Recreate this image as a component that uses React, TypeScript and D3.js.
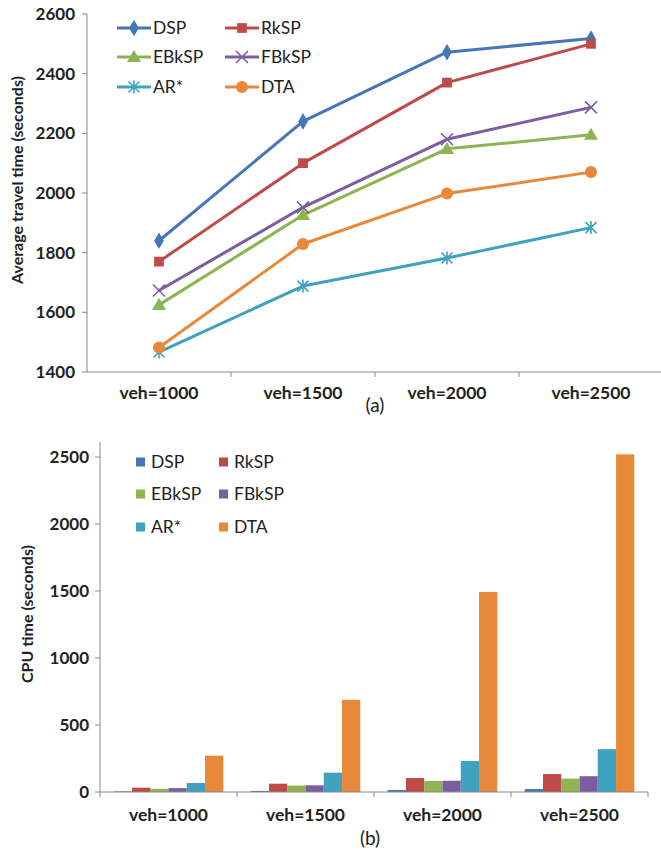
import React from "react";
import * as d3 from "d3";

// Scenarios and methods
const categories = ["veh=1000", "veh=1500", "veh=2000", "veh=2500"];
const methods = ["DSP", "RkSP", "EBkSP", "FBkSP", "AR*", "DTA"];
const colors = ["#4576B8", "#BE4B48", "#8DB450", "#7B5EA0", "#3FA2BE", "#E8893A"];

// (a) Average travel time (seconds)
const travelDSP = [1840, 2240, 2472, 2518];
const travelRkSP = [1770, 2100, 2370, 2500];
const travelEBkSP = [1625, 1926, 2148, 2195];
const travelFBkSP = [1673, 1952, 2180, 2287];
const travelAR = [1467, 1688, 1782, 1884];
const travelDTA = [1482, 1829, 1998, 2070];
const travelSeries = [travelDSP, travelRkSP, travelEBkSP, travelFBkSP, travelAR, travelDTA];
const travelTicks = [1400, 1600, 1800, 2000, 2200, 2400, 2600];

// (b) CPU time (seconds)
const cpuDSP = [5, 8, 15, 22];
const cpuRkSP = [32, 62, 104, 134];
const cpuEBkSP = [24, 48, 82, 100];
const cpuFBkSP = [29, 50, 84, 118];
const cpuAR = [67, 144, 231, 320];
const cpuDTA = [271, 688, 1493, 2520];
const cpuSeries = [cpuDSP, cpuRkSP, cpuEBkSP, cpuFBkSP, cpuAR, cpuDTA];
const cpuTicks = [0, 500, 1000, 1500, 2000, 2500];

const FONT = "Lato, 'Open Sans', sans-serif";
const AXIS = "#8A8A8A";
const TEXT = "#222";

function Marker({ kind, x, y, color }: { kind: number; x: number; y: number; color: string }) {
  const t = `translate(${x},${y})`;
  if (kind === 0) return <path transform={t} d={d3.symbol(d3.symbolDiamond, 80)()!} fill={color} />;
  if (kind === 1) return <path transform={t} d={d3.symbol(d3.symbolSquare, 95)()!} fill={color} />;
  if (kind === 2) return <path transform={t + " translate(0,1)"} d={d3.symbol(d3.symbolTriangle, 85)()!} fill={color} />;
  if (kind === 3) {
    const s = 6;
    return (
      <path transform={t} d={`M${-s},${-s}L${s},${s}M${-s},${s}L${s},${-s}`} stroke={color} strokeWidth={1.6} fill="none" />
    );
  }
  if (kind === 4) {
    const s = 5.5;
    return (
      <path
        transform={t}
        d={`M${-s},${-s}L${s},${s}M${-s},${s}L${s},${-s}M0,${-s - 1}L0,${s + 1}`}
        stroke={color}
        strokeWidth={1.6}
        fill="none"
      />
    );
  }
  return <circle cx={x} cy={y} r={6} fill={color} />;
}

function TravelChart() {
  const x = d3.scaleBand<string>().domain(categories).range([87, 663]);
  const y = d3.scaleLinear().domain([1400, 2600]).range([372, 14]);
  const line = d3
    .line<number>()
    .x((_, i) => x(categories[i])! + x.bandwidth() / 2)
    .y((v) => y(v));
  const edges = categories.map((c) => x(c)!).concat([x.range()[1]]);
  const legendCols = [117, 225];
  const legendRows = [28, 57, 87];
  return (
    <g>
      {/* axes */}
      <line x1={87} x2={87} y1={y(2600)} y2={y(1400)} stroke={AXIS} strokeWidth={1} />
      <line x1={87} x2={663} y1={y(1400)} y2={y(1400)} stroke={AXIS} strokeWidth={1} />
      {travelTicks.map((t) => (
        <g key={t}>
          <line x1={82} x2={87} y1={y(t)} y2={y(t)} stroke={AXIS} />
          <text x={75} y={y(t)} dy="0.35em" textAnchor="end" fontFamily={FONT} fontWeight={700} fontSize={17} fill={TEXT}>
            {t}
          </text>
        </g>
      ))}
      {edges.slice(1).map((e, i) => (
        <line key={i} x1={e} x2={e} y1={y(1400)} y2={y(1400) + 5} stroke={AXIS} />
      ))}
      {categories.map((c) => (
        <text key={c} x={x(c)! + x.bandwidth() / 2} y={399} textAnchor="middle" fontFamily={FONT} fontWeight={700} fontSize={17.5} fill={TEXT}>
          {c}
        </text>
      ))}
      <text
        transform={`translate(23,${y(2000) - 13}) rotate(-90)`}
        textAnchor="middle"
        fontFamily={FONT}
        fontWeight={700}
        fontSize={16}
        fill={TEXT}
      >
        Average travel time (seconds)
      </text>
      {/* series */}
      {travelSeries.map((s, k) => (
        <g key={methods[k]}>
          <path d={line(s)!} fill="none" stroke={colors[k]} strokeWidth={3} strokeLinejoin="round" />
          {s.map((v, i) => (
            <Marker key={i} kind={k} x={x(categories[i])! + x.bandwidth() / 2} y={y(v)} color={colors[k]} />
          ))}
        </g>
      ))}
      {/* legend */}
      {methods.map((m, k) => {
        const lx = legendCols[k % 2];
        const ly = legendRows[Math.floor(k / 2)];
        return (
          <g key={m}>
            <line x1={lx} x2={lx + 34} y1={ly} y2={ly} stroke={colors[k]} strokeWidth={3} />
            <Marker kind={k} x={lx + 17} y={ly} color={colors[k]} />
            <text x={lx + 36} y={ly} dy="0.35em" fontFamily={FONT} fontSize={17.5} fill={TEXT}>
              {m}
            </text>
          </g>
        );
      })}
      <text x={375} y={412} textAnchor="middle" fontFamily={FONT} fontSize={19} fill={TEXT}>
        (a)
      </text>
    </g>
  );
}

function CpuChart() {
  const x = d3.scaleBand<string>().domain(categories).range([100, 648]);
  const y = d3.scaleLinear().domain([0, 2500]).range([792, 457]);
  const bw = x.bandwidth() / 7.5;
  const inner = d3
    .scaleBand<string>()
    .domain(methods)
    .range([bw * 0.75, x.bandwidth() - bw * 0.75]);
  const edges = categories.map((c) => x(c)!).concat([x.range()[1]]);
  const legendCols = [136, 219];
  const legendRows = [462, 494, 527];
  return (
    <g>
      {/* bars */}
      {cpuSeries.map((s, k) =>
        s.map((v, i) => (
          <rect
            key={`${k}-${i}`}
            x={x(categories[i])! + inner(methods[k])!}
            y={y(v)}
            width={inner.bandwidth()}
            height={y(0) - y(v)}
            fill={colors[k]}
          />
        ))
      )}
      {/* axes */}
      <line x1={100} x2={100} y1={y(2500) - 15} y2={y(0)} stroke={AXIS} strokeWidth={1} />
      <line x1={100} x2={648} y1={y(0)} y2={y(0)} stroke={AXIS} strokeWidth={1} />
      {cpuTicks.map((t) => (
        <g key={t}>
          <line x1={95} x2={100} y1={y(t)} y2={y(t)} stroke={AXIS} />
          <text x={89} y={y(t)} dy="0.35em" textAnchor="end" fontFamily={FONT} fontWeight={700} fontSize={17} fill={TEXT}>
            {t}
          </text>
        </g>
      ))}
      {edges.map((e, i) => (
        <line key={i} x1={e} x2={e} y1={y(0)} y2={y(0) + 5} stroke={AXIS} />
      ))}
      {categories.map((c) => (
        <text key={c} x={x(c)! + x.bandwidth() / 2} y={821} textAnchor="middle" fontFamily={FONT} fontWeight={700} fontSize={17.5} fill={TEXT}>
          {c}
        </text>
      ))}
      <text
        transform={`translate(33,614) rotate(-90)`}
        textAnchor="middle"
        fontFamily={FONT}
        fontWeight={700}
        fontSize={16}
        fill={TEXT}
      >
        CPU time (seconds)
      </text>
      {/* legend */}
      {methods.map((m, k) => {
        const lx = legendCols[k % 2];
        const ly = legendRows[Math.floor(k / 2)];
        return (
          <g key={m}>
            <rect x={lx} y={ly - 4.5} width={9} height={9} fill={colors[k]} />
            <text x={lx + 15} y={ly} dy="0.35em" fontFamily={FONT} fontSize={17.5} fill={TEXT}>
              {m}
            </text>
          </g>
        );
      })}
      <text x={370} y={845} textAnchor="middle" fontFamily={FONT} fontSize={19} fill={TEXT}>
        (b)
      </text>
    </g>
  );
}

export default function App() {
  return (
    <svg
      width={661}
      height={851}
      viewBox="0 0 661 851"
      style={{ position: "absolute", left: 0, top: 0, background: "#fff" }}
    >
      <rect width={661} height={851} fill="#fff" />
      <TravelChart />
      <CpuChart />
    </svg>
  );
}
